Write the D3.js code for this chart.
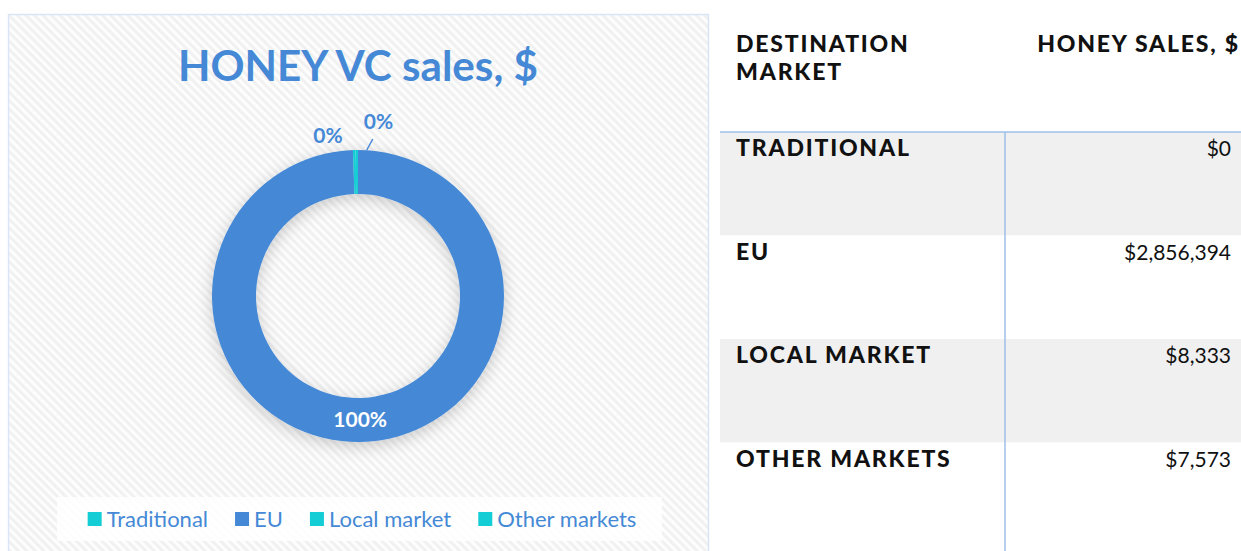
<!DOCTYPE html>
<html>
<head>
<meta charset="utf-8">
<script src="https://cdn.jsdelivr.net/npm/d3@7"></script>
<style>
  body { margin: 0; background: #fff; }
  svg { display: block; }
</style>
</head>
<body>
<div id="chart"></div>
<script>
// Data

var markets = ["Traditional", "EU", "Local market", "Other markets"];
var sales = [0, 2856394, 8333, 7573];
var pctLabels = ["", "100%", "0%", "0%"];   // as printed on the chart
var colors = ["#14cdd5", "#4589d6", "#14cdd5", "#14cdd5"];

var tableHeader = ["DESTINATION\nMARKET", "HONEY SALES, $"];

// Generate svg

var width = 1241;
var height = 551;

var svg = d3.select("#chart")
  .append("svg")
  .attr("width", width)
  .attr("height", height);

var defs = svg.append("defs");

var pattern = defs.append("pattern")
  .attr("id", "stripes")
  .attr("width", 6)
  .attr("height", 6)
  .attr("patternUnits", "userSpaceOnUse")
  .attr("patternTransform", "rotate(-45)");
pattern.append("rect").attr("width", 6).attr("height", 6).attr("fill", "#fdfdfd");
pattern.append("rect").attr("width", 3).attr("height", 6).attr("fill", "#f1f1f1");

var shadow = defs.append("filter")
  .attr("id", "shadow")
  .attr("x", "-30%").attr("y", "-30%")
  .attr("width", "160%").attr("height", "160%");
shadow.append("feDropShadow")
  .attr("dx", 0).attr("dy", 4)
  .attr("stdDeviation", 8)
  .attr("flood-color", "#000")
  .attr("flood-opacity", 0.2);

// Chart area

svg.append("rect")
  .attr("x", 8.5)
  .attr("y", 14.5)
  .attr("width", 700)
  .attr("height", 560)
  .attr("fill", "url(#stripes)")
  .attr("stroke", "#d9e5f5")
  .attr("stroke-width", 1.5);

var title = svg.append("text")
  .attr("x", 358)
  .attr("y", 81)
  .attr("text-anchor", "middle")
  .attr("font-family", "Lato, sans-serif")
  .attr("font-weight", "bold")
  .attr("font-size", 40)
  .attr("fill", "#4589d6")
  .text("HONEY VC sales, $");
var tw = title.node().getComputedTextLength();
title.attr("font-size", 40 * 360 / tw);

// Donut

var cx = 358, cy = 296;
var outerR = 146, innerR = 102;

var pie = d3.pie().sort(null).value(function(d) { return d; });
var arcs = pie(sales);

var arc = d3.arc().innerRadius(innerR).outerRadius(outerR);

var donut = svg.append("g")
  .attr("transform", `translate(${cx}, ${cy})`);

donut.append("g")
  .attr("filter", "url(#shadow)")
  .selectAll("path")
  .data(arcs)
  .enter()
  .append("path")
  .attr("d", arc)
  .attr("fill", function(d, i) { return colors[i]; });

// Labels

var labelFont = "Lato, sans-serif";

arcs.forEach(function(d, i) {
  if (!pctLabels[i]) return;
  var mid = (d.startAngle + d.endAngle) / 2;
  if (d.endAngle - d.startAngle > 0.5) {
    var c = arc.centroid(d);
    donut.append("text")
      .attr("x", c[0])
      .attr("y", c[1] + 7)
      .attr("text-anchor", "middle")
      .attr("font-family", labelFont)
      .attr("font-weight", "bold")
      .attr("font-size", 21)
      .attr("fill", "#fff")
      .text(pctLabels[i]);
    return;
  }
  var sx = Math.sin(mid), sy = -Math.cos(mid);
  if (i === 2) {
    donut.append("text")
      .attr("x", sx * 160 - 26)
      .attr("y", sy * 160 + 7)
      .attr("text-anchor", "middle")
      .attr("font-family", labelFont)
      .attr("font-weight", "bold")
      .attr("font-size", 21)
      .attr("fill", "#4589d6")
      .text(pctLabels[i]);
  } else {
    donut.append("line")
      .attr("x1", sx * outerR + 10)
      .attr("y1", sy * outerR)
      .attr("x2", sx * outerR + 16)
      .attr("y2", sy * outerR - 11)
      .attr("stroke", "#4589d6")
      .attr("stroke-width", 1.5);
    donut.append("text")
      .attr("x", sx * 174 + 22)
      .attr("y", sy * 174 + 7)
      .attr("text-anchor", "middle")
      .attr("font-family", labelFont)
      .attr("font-weight", "bold")
      .attr("font-size", 21)
      .attr("fill", "#4589d6")
      .text(pctLabels[i]);
  }
});

// Legend

svg.append("rect")
  .attr("x", 57)
  .attr("y", 497)
  .attr("width", 605)
  .attr("height", 44)
  .attr("fill", "#fff")
  .attr("fill-opacity", 0.85);

var legend = svg.append("g");
var items = legend.selectAll("g")
  .data(markets)
  .enter().append("g");

items.append("rect")
  .attr("width", 14)
  .attr("height", 14)
  .attr("y", -15)
  .attr("fill", function(d, i) { return colors[i]; });

items.append("text")
  .attr("x", 19)
  .attr("font-family", labelFont)
  .attr("font-size", 22)
  .attr("fill", "#4589d6")
  .text(function(d) { return d; });

var xPos = 0, gap = 27, positions = [];
items.each(function() {
  positions.push(xPos);
  xPos += this.getBBox().width + gap;
});
var legendW = xPos - gap;
items.attr("transform", function(d, i) {
  return `translate(${362 - legendW / 2 + positions[i]}, 527)`;
});

// Table

var tableLeft = 720, tableRight = 1241, colSplit = 1005;
var rows = d3.scaleBand()
  .domain(markets)
  .range([132, 546]);

var fmt = d3.format("$,");
var headFont = "Lato, sans-serif";

var table = svg.append("g");

table.selectAll(".row")
  .data(markets)
  .enter().append("rect")
  .attr("class", "row")
  .attr("x", tableLeft)
  .attr("y", function(d) { return rows(d); })
  .attr("width", tableRight - tableLeft)
  .attr("height", function(d, i) { return i === markets.length - 1 ? height - rows(d) : rows.bandwidth(); })
  .attr("fill", function(d, i) { return i % 2 === 0 ? "#f0f0f0" : "#fff"; });

table.append("line")
  .attr("x1", tableLeft).attr("x2", tableRight)
  .attr("y1", 132).attr("y2", 132)
  .attr("stroke", "#9dc1ea").attr("stroke-width", 1.5);

table.append("line")
  .attr("x1", colSplit).attr("x2", colSplit)
  .attr("y1", 132).attr("y2", height)
  .attr("stroke", "#9dc1ea").attr("stroke-width", 1.5);

function headText(sel) {
  return sel
    .attr("font-family", headFont)
    .attr("font-weight", 900)
    .attr("font-size", 23)
    .attr("letter-spacing", 1.8)
    .attr("fill", "#111");
}

tableHeader[0].split("\n").forEach(function(t, i) {
  table.append("text")
    .attr("x", 736)
    .attr("y", 52 + i * 28)
    .call(headText)
    .text(t);
});

table.append("text")
  .attr("x", 1240)
  .attr("y", 52)
  .attr("text-anchor", "end")
  .call(headText)
  .text(tableHeader[1]);

table.selectAll(".name")
  .data(markets)
  .enter().append("text")
  .attr("class", "name")
  .attr("x", 736)
  .attr("y", function(d) { return rows(d) + 24; })
  .call(headText)
  .text(function(d) { return d.toUpperCase(); });

table.selectAll(".value")
  .data(sales)
  .enter().append("text")
  .attr("class", "value")
  .attr("x", 1231)
  .attr("y", function(d, i) { return rows(markets[i]) + 24; })
  .attr("text-anchor", "end")
  .attr("font-family", headFont)
  .attr("font-size", 21)
  .attr("fill", "#111")
  .text(function(d) { return fmt(d); });
</script>
</body>
</html>
